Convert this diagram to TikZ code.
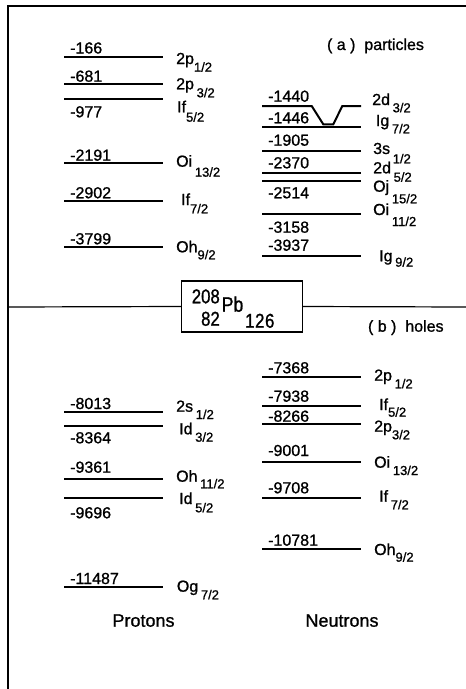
\documentclass[tikz,border=0pt]{standalone}
\usepackage{fontspec}
\setmainfont{Liberation Sans}[FakeBold=1]
\newfontfamily\condfont{Liberation Sans}[FakeStretch=0.84,FakeBold=1]
\newcommand\numsize{\fontsize{16}{19}\selectfont}
\newcommand\subsize{\fontsize{13}{15}\selectfont}
\newcommand\orbl[3]{#1\raisebox{-#3pt}{\subsize #2}}
\begin{document}
\begin{tikzpicture}[x=1pt,y=-1pt,
  lvl/.style={line width=2pt},
  framel/.style={line width=1.2pt},
  num/.style={anchor=base west,inner sep=0pt,font=\numsize},
  orb/.style={anchor=base west,inner sep=0pt,font=\numsize},
  ttl/.style={anchor=base,inner sep=0pt,font=\fontsize{16}{19}\selectfont},
  grp/.style={anchor=base,inner sep=0pt,font=\fontsize{18}{21}\selectfont},
  boxt/.style={inner sep=0pt,font=\condfont\fontsize{20}{22}\selectfont}]
\useasboundingbox (0,0) rectangle (466,689);
% frame
\coordinate (tl) at (8,6);
\coordinate (tr) at (466,6);
\coordinate (bl) at (8,689);
\coordinate (ml) at (8,307);
\coordinate (mr) at (466,307);
\draw[framel] (bl) -- (tl) -- (tr);
% Pb box
\node[draw,line width=1.4pt,minimum width=120.6pt,minimum height=51pt,inner sep=0pt] (pb) at (242,306.5) {};
\draw[framel] (ml) -- (pb.west);
\draw[framel] (pb.east) -- (mr);
\node[boxt,anchor=base east] (a208) at (220,303.3) {208};
\node[boxt,anchor=base east] (z82) at (220,325.7) {82};
\node[boxt,anchor=base west,font=\condfont\fontsize{21}{23}\selectfont] (pbt) at (221.5,311.7) {Pb};
\node[boxt,anchor=base west] (n126) at (245,327.7) {1\kern0.6pt2\kern0.6pt6};
% titles
\node[ttl] (ta) at (375.5,50) {( a )\ \ particles};
\node[ttl] (tb) at (405.8,331.7) {( b )\ \ holes};
\node[grp] (prot) at (143.5,626.7) {Protons};
\node[grp] (neut) at (342,626.7) {Neutrons};
% ---------- protons, particles
\draw[lvl] (64,57) -- (163,57);
\node[num] (pp1) at (70,53.5) {-166};
\node[orb] (pp1o) at (176,64) {\orbl{2p}{1/2}{7.7}};
\draw[lvl] (64,84.3) -- (163,84.3);
\node[num] (pp2) at (70,81.7) {-681};
\node[orb] (pp2o) at (176,89.3) {\orbl{2p\,}{3/2}{8}};
\draw[lvl] (64,99) -- (163,99);
\node[num] (pp3) at (70,117.3) {-977};
\node[orb] (pp3o) at (177,112.3) {\orbl{If}{5/2}{9.4}};
\draw[lvl] (64,163) -- (163,163);
\node[num] (pp4) at (70,160.7) {-2191};
\node[orb] (pp4o) at (176,166.7) {\orbl{Oi\,}{13/2}{10}};
\draw[lvl] (64,201) -- (163,201);
\node[num] (pp5) at (70,198.3) {-2902};
\node[orb] (pp5o) at (181,205) {\orbl{If}{7/2}{8.3}};
\draw[lvl] (64,247) -- (163,247);
\node[num] (pp6) at (70,244.3) {-3799};
\node[orb] (pp6o) at (176,252.3) {\orbl{Oh}{9/2}{7}};
% ---------- neutrons, particles
\draw[lvl] (262,106) -- (311.7,106) -- (323.3,124.3) -- (333.3,124.3) -- (342.3,106) -- (361,106);
\node[num] (np1) at (268,101.7) {-1440};
\node[orb] (np1o) at (372,105) {\orbl{2d\,}{3/2}{7.3}};
\draw[lvl] (262,126.7) -- (361,126.7);
\node[num] (np2) at (268,123.3) {-1446};
\node[orb] (np2o) at (375.7,126) {\orbl{Ig\,}{7/2}{7.3}};
\draw[lvl] (262,151) -- (361,151);
\node[num] (np3) at (268,145.7) {-1905};
\node[orb] (np3o) at (373,154) {\orbl{3s\,}{1/2}{9.3}};
\draw[lvl] (262,173.3) -- (361,173.3);
\node[num] (np4) at (268,168.3) {-2370};
\node[orb] (np4o) at (373,173.3) {\orbl{2d\,}{5/2}{8.4}};
\draw[lvl] (262,181) -- (361,181);
\node[num] (np5) at (268,198.3) {-2514};
\node[orb] (np5o) at (373,191.7) {\orbl{Oj\,}{15/2}{11.6}};
\draw[lvl] (262,213.7) -- (361,213.7);
\node[num] (np6) at (268,232.7) {-3158};
\node[orb] (np6o) at (373,215) {\orbl{Oi\,}{11/2}{11}};
\draw[lvl] (262,256) -- (361,256);
\node[num] (np7) at (268,250.7) {-3937};
\node[orb] (np7o) at (379,261.3) {\orbl{Ig\,}{9/2}{5.4}};
% ---------- protons, holes
\draw[lvl] (64,411.7) -- (163,411.7);
\node[num] (ph1) at (70,409) {-8013};
\node[orb] (ph1o) at (176,411.7) {\orbl{2s\,}{1/2}{7.3}};
\draw[lvl] (64,426) -- (163,426);
\node[num] (ph2) at (70,443.3) {-8364};
\node[orb] (ph2o) at (179,434.3) {\orbl{Id\,}{3/2}{7.4}};
\draw[lvl] (64,479.3) -- (163,479.3);
\node[num] (ph3) at (70,472.7) {-9361};
\node[orb] (ph3o) at (176,481.7) {\orbl{Oh\,}{11/2}{6.6}};
\draw[lvl] (64,498) -- (163,498);
\node[num] (ph4) at (70,518.3) {-9696};
\node[orb] (ph4o) at (179,504) {\orbl{Id\,}{5/2}{8.3}};
\draw[lvl] (64,587) -- (163,587);
\node[num] (ph5) at (70,584) {-11487};
\node[orb] (ph5o) at (176.7,591.7) {\orbl{Og\,}{7/2}{7.6}};
% ---------- neutrons, holes
\draw[lvl] (262,376.7) -- (361,376.7);
\node[num] (nh1) at (268,373.3) {-7368};
\node[orb] (nh1o) at (374,380.7) {\orbl{2p\,}{1/2}{7.6}};
\draw[lvl] (262,405.7) -- (361,405.7);
\node[num] (nh2) at (268,401.7) {-7938};
\node[orb] (nh2o) at (379,410) {\orbl{If}{5/2}{6.7}};
\draw[lvl] (262,424) -- (361,424);
\node[num] (nh3) at (268,421.7) {-8266};
\node[orb] (nh3o) at (374,431.7) {\orbl{2p}{3/2}{7.6}};
\draw[lvl] (262,461.7) -- (361,461.7);
\node[num] (nh4) at (268,456) {-9001};
\node[orb] (nh4o) at (374,467.7) {\orbl{Oi\,}{13/2}{7.3}};
\draw[lvl] (262,498) -- (361,498);
\node[num] (nh5) at (268,493.3) {-9708};
\node[orb] (nh5o) at (379,501.7) {\orbl{If\,}{7/2}{7.6}};
\draw[lvl] (262,549) -- (361,549);
\node[num] (nh6) at (268,545.7) {-10781};
\node[orb] (nh6o) at (374,555) {\orbl{Oh}{9/2}{6.7}};
\end{tikzpicture}
\end{document}
